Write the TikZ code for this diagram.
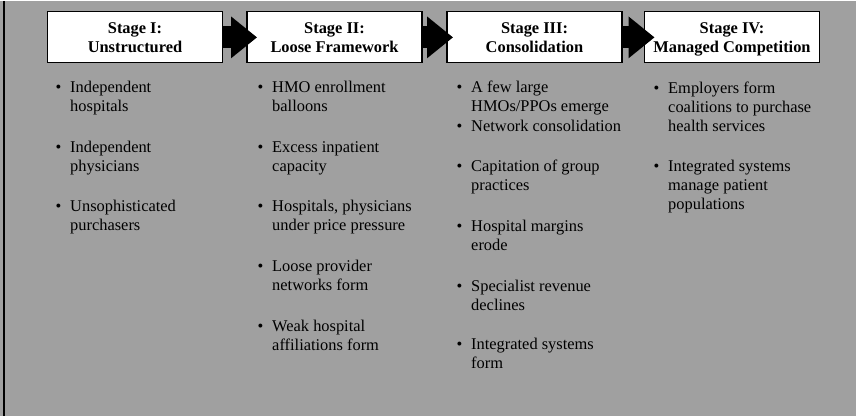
\documentclass[tikz,border=0pt]{standalone}
\usepackage{fontspec}
\setmainfont{Liberation Serif}
\usepackage{tikz}
\usetikzlibrary{arrows.meta}
\definecolor{scangray}{RGB}{160,160,160}
\newcommand{\bodyfont}{\fontsize{14pt}{16.2pt}\selectfont}
\newcommand{\bul}{\strut\llap{\textbullet\hspace{7.5pt}}}

\begin{document}
\begin{tikzpicture}[
  stagebox/.style={draw=black,line width=1pt,fill=white,minimum width=5.25cm,minimum height=1.53cm,inner sep=0pt,align=center,font=\bodyfont\bfseries},
  item/.style={anchor=north west,inner sep=0pt,align=left,font=\bodyfont}
  ]
  \fill[scangray] (0,0) rectangle (25.68,-12.45);
  \draw[black,line width=1.5pt] (0.12,0) -- (0.12,-12.45);

  \node[stagebox] (s1) at (4.05,-1.095) {Stage I:\\Unstructured};
  \node[stagebox] (s2) at (10.035,-1.095) {Stage II:\\Loose Framework};
  \node[stagebox] (s3) at (16.035,-1.095) {Stage III:\\Consolidation};
  \node[stagebox] (s4) at (21.96,-1.095) {Stage IV:\\\smash{Managed Competition}};

  \node[item] (i1a) at (2.1,-2.33) {\bul Independent\\hospitals};
  \node[item] (i1b) at (2.1,-4.13) {\bul Independent\\physicians};
  \node[item] (i1c) at (2.1,-5.90) {\bul Unsophisticated\\purchasers};

  \node[item] (i2a) at (8.16,-2.33) {\bul HMO enrollment\\balloons};
  \node[item] (i2b) at (8.16,-4.13) {\bul Excess inpatient\\capacity};
  \node[item] (i2c) at (8.16,-5.90) {\bul Hospitals, physicians\\under price pressure};
  \node[item] (i2d) at (8.16,-7.70) {\bul Loose provider\\networks form};
  \node[item] (i2e) at (8.16,-9.50) {\bul Weak hospital\\affiliations form};

  \node[item] (i3a) at (14.13,-2.33) {\bul A few large\\HMOs/PPOs emerge};
  \node[item] (i3b) at (14.13,-3.50) {\bul Network consolidation};
  \node[item] (i3c) at (14.13,-4.70) {\bul Capitation of group\\practices};
  \node[item] (i3d) at (14.13,-6.50) {\bul Hospital margins\\erode};
  \node[item] (i3e) at (14.13,-8.30) {\bul Specialist revenue\\declines};
  \node[item] (i3f) at (14.13,-10.04) {\bul Integrated systems\\form};

  \node[item] (i4a) at (20.04,-2.36) {\bul Employers form\\coalitions to purchase\\health services};
  \node[item] (i4b) at (20.04,-4.70) {\bul Integrated systems\\manage patient\\populations};

  \draw [-{Triangle[length=0.78cm,width=1.2cm]}][black,line width=0.66cm] (s1.east) -- ([xshift=0.32cm]s2.west);
  \draw [-{Triangle[length=0.78cm,width=1.2cm]}][black,line width=0.66cm] (s2.east) -- ([xshift=0.2cm]s3.west);
  \draw [-{Triangle[length=0.78cm,width=1.2cm]}][black,line width=0.66cm] (s3.east) -- ([xshift=0.32cm]s4.west);
\end{tikzpicture}
\end{document}
